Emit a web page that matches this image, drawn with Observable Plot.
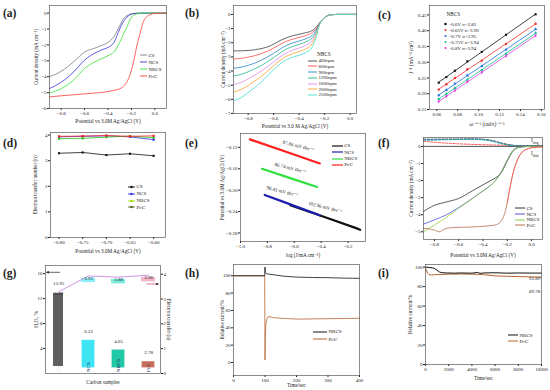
<!DOCTYPE html>
<html><head><meta charset="utf-8">
<script src="https://cdn.jsdelivr.net/npm/d3@7"></script>
<script src="https://cdn.jsdelivr.net/npm/@observablehq/plot@0.6"></script>
<style>
html,body{margin:0;padding:0;background:#fff;}
#root{position:relative;width:550px;height:390px;overflow:hidden;font-family:"Liberation Serif","DejaVu Serif",serif;color:#222;}
.lbl{position:absolute;font-weight:bold;font-size:11.5px;line-height:1;}
.lg{position:absolute;font-size:5px;line-height:1;white-space:nowrap;display:flex;align-items:center;transform:translateY(-50%);}
.tx{position:absolute;font-size:5.2px;line-height:1;white-space:nowrap;transform:translateY(-50%);}
</style></head><body><div id="root"></div>
<script>
// ---------- (a) LSV of samples ----------
const aPot = [-0.9,-0.8,-0.7,-0.6,-0.5,-0.45,-0.4,-0.35,-0.3,-0.27,-0.24,-0.21,-0.18,-0.15,-0.12,-0.1,-0.05,0,0.1];
const aCS  = [-4.0,-3.66,-3.1,-2.45,-2.17,-2.02,-1.84,-1.48,-0.8,-0.38,-0.17,-0.06,-0.02,0,0,0,0,0,0];
const aNCS = [-4.75,-4.35,-3.75,-2.95,-2.47,-2.3,-2.16,-1.85,-1.0,-0.55,-0.26,-0.1,-0.03,-0.01,0,0,0,0,0];
const aNBCS= [-5.02,-4.75,-4.25,-3.48,-3.02,-2.85,-2.68,-2.45,-1.84,-1.35,-0.9,-0.4,-0.12,-0.04,-0.01,0,0,0,0];
const aPtC = [-5.27,-5.2,-5.14,-5.08,-5.02,-4.99,-4.93,-4.86,-4.76,-4.62,-4.35,-3.84,-3.0,-1.95,-1.12,-0.59,-0.13,-0.02,0];

// ---------- (b) NBCS at rotation rates ----------
const bPot = [-0.915,-0.85,-0.8,-0.75,-0.7,-0.65,-0.6,-0.55,-0.5,-0.45,-0.4,-0.35,-0.3,-0.27,-0.24,-0.21,-0.18,-0.15,-0.1,0.05];
const bRpm = ["400rpm","600rpm","900rpm","1200rpm","1600rpm","2000rpm","2500rpm"];
const b400 = [-2.58,-2.57,-2.55,-2.5,-2.42,-2.3,-2.1,-1.85,-1.65,-1.5,-1.4,-1.3,-1.15,-0.95,-0.6,-0.3,-0.1,-0.02,0,0];
const b600 = [-3.15,-3.1,-3.02,-2.92,-2.78,-2.6,-2.38,-2.12,-1.9,-1.75,-1.62,-1.5,-1.3,-1.05,-0.62,-0.3,-0.1,-0.02,0,0];
const b900 = [-3.8,-3.72,-3.6,-3.45,-3.25,-3.02,-2.75,-2.45,-2.2,-2.02,-1.88,-1.73,-1.5,-1.17,-0.64,-0.3,-0.1,-0.02,0,0];
const b1200= [-4.35,-4.22,-4.05,-3.85,-3.62,-3.35,-3.05,-2.72,-2.45,-2.27,-2.12,-1.95,-1.68,-1.3,-0.66,-0.3,-0.1,-0.02,0,0];
const b1600= [-4.95,-4.78,-4.55,-4.3,-4.02,-3.7,-3.35,-3.0,-2.72,-2.52,-2.37,-2.2,-1.88,-1.42,-0.69,-0.3,-0.1,-0.02,0,0];
const b2000= [-5.5,-5.28,-5.02,-4.72,-4.4,-4.02,-3.62,-3.25,-2.96,-2.77,-2.62,-2.45,-2.1,-1.55,-0.72,-0.3,-0.1,-0.02,0,0];
const b2500= [-6.1,-5.85,-5.52,-5.18,-4.8,-4.35,-3.9,-3.5,-3.2,-3.02,-2.88,-2.7,-2.35,-1.7,-0.75,-0.3,-0.1,-0.02,0,0];

// ---------- (c) K-L plots ----------
const cOmega = [0.0618,0.0691,0.0773,0.0892,0.1030,0.1262,0.1545];
const cNames = ["-0.6V n=3.82","-0.65V n=3.90","-0.7V n=3.95","-0.75V n=3.94","-0.8V n=3.94"];
const cJ06  = [0.235,0.253,0.273,0.303,0.333,0.387,0.452];
const cJ065 = [0.213,0.230,0.250,0.278,0.305,0.358,0.422];
const cJ07  = [0.195,0.212,0.232,0.258,0.288,0.340,0.405];
const cJ075 = [0.183,0.200,0.218,0.245,0.275,0.327,0.393];
const cJ08  = [0.175,0.192,0.210,0.238,0.268,0.320,0.385];

// ---------- (d) electron transfer number ----------
const dPot  = [-0.80,-0.75,-0.70,-0.65,-0.60];
const dCS   = [3.29,3.32,3.22,3.27,3.19];
const dNCS  = [3.93,3.95,3.97,3.93,3.82];
const dNBCS = [3.86,3.87,3.92,3.96,3.90];
const dPtC  = [3.95,3.96,3.98,3.95,3.97];

// ---------- (e) Tafel ----------
const eSlopes = ["102.96 mV dec⁻¹","98.43 mV dec⁻¹","86.74 mV dec⁻¹","87.86 mV dec⁻¹"];
const eCSx = [-0.63,-0.37,-0.14,-0.11],  eCSy = [-0.228,-0.2508,-0.271,-0.274];
const eNCx = [-0.82,-0.69,-0.41],        eNCy = [-0.209,-0.221,-0.247];
const eNBx = [-0.84,-0.63,-0.43],        eNBy = [-0.160,-0.1774,-0.194];
const ePtx = [-0.93,-0.57,-0.41],        ePty = [-0.105,-0.136,-0.150];

// ---------- (f) RRDE ----------
const fRingPot = [-0.89,-0.8,-0.7,-0.6,-0.5,-0.4,-0.3,-0.25,-0.2,-0.15,-0.1,0,0.09];
const fRingCS  = [0.42,0.42,0.43,0.43,0.44,0.42,0.3,0.2,0.12,0.06,0.04,0.03,0.03];
const fRingNCS = [0.38,0.39,0.4,0.41,0.42,0.4,0.28,0.18,0.1,0.05,0.03,0.02,0.02];
const fRingNBCS= [0.36,0.37,0.39,0.4,0.41,0.38,0.26,0.16,0.09,0.05,0.03,0.02,0.02];
const fRingPtC = [0.3,0.24,0.19,0.15,0.12,0.1,0.08,0.07,0.06,0.05,0.04,0.03,0.03];
const fPot   = [-0.89,-0.8,-0.7,-0.6,-0.5,-0.4,-0.35,-0.3,-0.25,-0.2,-0.15,-0.1,-0.05,0,0.09];
const fCS    = [-3.81,-3.45,-3.25,-3.05,-2.65,-2.25,-2.05,-1.85,-1.55,-0.85,-0.25,-0.05,-0.01,0,0];
const fNCS   = [-4.55,-4.3,-4.0,-3.58,-3.1,-2.6,-2.35,-2.02,-1.5,-0.8,-0.22,-0.05,-0.01,0,0];
const fNBCS  = [-5.0,-4.6,-4.15,-3.62,-3.12,-2.62,-2.36,-2.02,-1.5,-0.8,-0.22,-0.05,-0.01,0,0];
const fPtPot = [-0.89,-0.85,-0.8,-0.76,-0.72,-0.65,-0.5,-0.35,-0.3,-0.26,-0.23,-0.2,-0.18,-0.16,-0.14,-0.12,-0.1,-0.08,-0.05,0,0.09];
const fPtC   = [-4.8,-4.82,-4.9,-5.0,-4.85,-4.75,-4.72,-4.65,-4.6,-4.45,-4.1,-3.3,-2.5,-1.8,-1.25,-0.85,-0.55,-0.35,-0.2,-0.08,-0.03];

// ---------- (g) H2O2 and n ----------
const gSamples = ["CS","NCS","NBCS","Pt/C"];
const gH2O2 = [13.95,6.22,4.65,2.78];
const gN = [3.29,3.93,3.88,3.96];

// ---------- (h) methanol tolerance ----------
const hT_NB = [0,50,99,100,101,104,110,130,160,200,250,300,350,400];
const hNB   = [100,100,100,110,104,102.5,102,101,99.5,98.5,98,97.8,97.3,97];
const hT_Pt = [0,50,99,100,101,103,106,110,130,200,300,400];
const hPt   = [100,100,100,3,30,45,50,53,51.5,50,50.5,51];

// ---------- (i) stability ----------
const iT_NB = [0,300,600,800,1000,1200,1400,1800,2500,3000,4000,4500,4700,5000,6000,7000,8000,9000,10000];
const iNB   = [100,99.7,99.2,98.5,96.8,95,94.3,94,93.8,94,93.8,94.5,93.6,94,94.2,93.8,94,93.9,93.89];
const iT_Pt = [0,100,200,300,500,1000,2000,3000,4000,5000,6000,7000,8000,9000,10000];
const iPt   = [99,96,93.5,92.3,92,92.3,92.8,93,92.8,92.3,91,90.6,90.3,90,89.78];

// ================= drawing =================
const FONT = "'Liberation Serif','DejaVu Serif',serif";
const root = document.getElementById("root");
const f1 = d3.format(".1f"), f2 = d3.format(".2f"), fd = d3.format("d");
const pts = (xs, ys) => xs.map((x,i) => ({x, y: ys[i]}));
const L = (xs, ys, stroke, o = {}) => Plot.line(pts(xs, ys), {x: "x", y: "y", stroke, strokeWidth: 0.8, ...o});

function panel(o) {
  const marks = [...(o.marks || [])];
  if (o.frame !== false) marks.push(Plot.frame({stroke: "#5a5a5a", strokeWidth: 0.7}));
  if (o.xl) marks.push(Plot.text([o.xl], {frameAnchor: "bottom", dy: o.xdy, fontSize: 5.2, textAnchor: "middle"}));
  if (o.yl) marks.push(Plot.text([o.yl], {frameAnchor: "left", dx: o.ydx, rotate: -90, fontSize: 5.2, textAnchor: "middle"}));
  if (o.yr) marks.push(Plot.text([o.yr], {frameAnchor: "right", dx: o.yrdx, rotate: 90, fontSize: 5.2, textAnchor: "middle"}));
  const svg = Plot.plot({
    width: o.w, height: o.h,
    marginLeft: o.ml, marginRight: o.mr, marginTop: o.mt, marginBottom: o.mb,
    style: {fontFamily: FONT, fontSize: "5px", background: "transparent", overflow: "visible", color: "#222"},
    x: {tickSize: 2, tickPadding: 1, label: null, ...o.x},
    y: {tickSize: 2, tickPadding: 1, label: null, ...o.y},
    marks
  });
  svg.style.position = "absolute";
  svg.style.left = o.left + "px";
  svg.style.top = o.top + "px";
  root.appendChild(svg);
}

function legend(items, x, y, step, o = {}) {
  const lw = o.lw ?? 8;
  items.forEach((it, i) => {
    const div = document.createElement("div");
    div.className = "lg";
    div.style.left = x + "px";
    div.style.top = (y + i * step) + "px";
    let mk = "";
    if (it.m === "sq") mk = `<rect x="${lw/2-1.1}" y="1.9" width="2.2" height="2.2" fill="${it.mc || it.c}"/>`;
    if (it.m === "ci") mk = `<circle cx="${lw/2}" cy="3" r="1.1" fill="${it.mc || it.c}"/>`;
    const line = it.noLine ? "" :
      `<line x1="0" y1="3" x2="${lw}" y2="3" stroke="${it.c}" stroke-width="${o.sw ?? 0.9}" ${it.dash ? `stroke-dasharray="${it.dash}"` : ""}/>`;
    div.innerHTML = `<svg width="${lw}" height="6" style="display:block;overflow:visible">${line}${mk}</svg><span style="margin-left:${o.gap ?? 1.5}px">${it.t}</span>`;
    root.appendChild(div);
  });
}
function txt(html, x, y, extra = "") {
  const d = document.createElement("div");
  d.className = "tx"; d.style.left = x + "px"; d.style.top = y + "px";
  if (extra) d.style.cssText += extra;
  d.innerHTML = html; root.appendChild(d);
}
function plabel(t, x, y) {
  const d = document.createElement("div");
  d.className = "lbl"; d.style.left = x + "px"; d.style.top = y + "px"; d.textContent = t;
  root.appendChild(d);
}

// ---- (a)
const aCol = {CS: "#7a7a7a", NCS: "#3434d8", NBCS: "#36e036", PtC: "#ff3b3b"};
panel({left: 0, top: 0, w: 183, h: 130, ml: 49, mr: 17, mt: 5, mb: 22,
  x: {domain: [-0.9, 0.1], ticks: [-0.8,-0.6,-0.4,-0.2,0], tickFormat: f1},
  y: {domain: [-6, 0.48], ticks: [0,-1,-2,-3,-4,-5,-6], tickFormat: fd},
  xl: "Potential vs 3.0M Ag/AgCl (V)", xdy: 14,
  yl: "Current density (mA cm⁻²)", ydx: -13,
  marks: [
    L(aPot, aCS, aCol.CS, {curve: "monotone-x"}),
    L(aPot, aNCS, aCol.NCS, {curve: "monotone-x"}),
    L(aPot, aNBCS, aCol.NBCS, {curve: "monotone-x"}),
    L(aPot, aPtC, aCol.PtC, {curve: "monotone-x"})
  ]});
legend([{t: "CS", c: aCol.CS}, {t: "NCS", c: aCol.NCS}, {t: "NBCS", c: aCol.NBCS}, {t: "Pt/C", c: aCol.PtC}], 140, 55, 7, {lw: 7});

// ---- (b)
const bCol = ["#404040","#ff4b4b","#2a86c8","#22b890","#e68ae6","#ffa12a","#3ee0d0"];
const bSeries = [b400,b600,b900,b1200,b1600,b2000,b2500];
panel({left: 183, top: 0, w: 183, h: 130, ml: 50, mr: 10, mt: 5, mb: 17,
  x: {domain: [-0.915, 0.05], ticks: [-0.8,-0.6,-0.4,-0.2,0], tickFormat: f1},
  y: {domain: [-7, 0.63], ticks: [0,-1,-2,-3,-4,-5,-6,-7], tickFormat: fd},
  xl: "Potential vs 3.0 M Ag/AgCl (V)", xdy: 14,
  yl: "Current density (mA cm⁻²)", ydx: -10,
  marks: bSeries.map((s, i) => L(bPot, s, bCol[i], {curve: "monotone-x"}))});
txt("NBCS", 317, 55);
legend(bRpm.map((t, i) => ({t, c: bCol[i]})), 308, 60.7, 5.7, {lw: 9});

// ---- (c)
const cCol = ["#111111","#f03030","#2070e0","#10c090","#e040e0"];
const cSym = ["square","circle","triangle","triangle","diamond"];
const cSeries = [cJ06,cJ065,cJ07,cJ075,cJ08];
panel({left: 366, top: 0, w: 184, h: 130, ml: 63, mr: 6, mt: 5, mb: 21,
  x: {domain: [0.053, 0.163], ticks: [0.06,0.08,0.10,0.12,0.14,0.16], tickFormat: f2},
  y: {domain: [0.15, 0.48], ticks: [0.15,0.20,0.25,0.30,0.35,0.40,0.45], tickFormat: f2},
  xl: "ω⁻⁰·⁵ (rad/s)⁻⁰·⁵", xdy: 16,
  yl: "J⁻¹ (mA⁻¹ cm²)", ydx: -18,
  marks: cSeries.flatMap((s, i) => [
    Plot.linearRegressionY(pts(cOmega, s), {x: "x", y: "y", stroke: cCol[i], strokeWidth: 0.8, ci: 0}),
    Plot.dot(pts(cOmega, s), {x: "x", y: "y", fill: cCol[i], r: 1.2, symbol: cSym[i]})
  ])});
txt("NBCS", 446.5, 15);
legend(cNames.map((t, i) => ({t, c: cCol[i], noLine: true, m: i === 0 ? "sq" : "ci"})), 443, 24, 6.1, {lw: 5});

// ---- (d)
const dCol = {CS: "#111111", NCS: "#3030e0", NBCS: "#20c020", PtC: "#ff2020"};
const dSeries = [[dCS, dCol.CS], [dNCS, dCol.NCS], [dNBCS, dCol.NBCS], [dPtC, dCol.PtC]];
panel({left: 0, top: 130, w: 183, h: 130, ml: 50, mr: 18, mt: 2, mb: 23,
  x: {domain: [-0.818, -0.575], ticks: dPot, tickFormat: f2},
  y: {domain: [0, 4.1], ticks: [0,1,2,3,4], tickFormat: fd},
  xl: "Potential vs 3.0M Ag/AgCl (V)", xdy: 15,
  yl: "Electron transfer number (n)", ydx: -15,
  marks: dSeries.flatMap(([s, c]) => [
    L(dPot, s, c),
    Plot.dot(pts(dPot, s), {x: "x", y: "y", fill: c, r: 1.2, symbol: "square"})
  ])});
legend([{t: "CS", c: "#111", m: "sq"}, {t: "NCS", c: "#3030e0", m: "sq"}, {t: "NBCS", c: "#a0e000", m: "sq"}, {t: "Pt/C", c: "#506020", m: "sq"}], 128, 186.7, 6.9, {lw: 7});

// ---- (e)
const eCol = {CS: "#111111", NCS: "#2020b0", NBCS: "#30e040", PtC: "#ff2020"};
const eLines = [[eCSx, eCSy, eCol.CS], [eNCx, eNCy, eCol.NCS], [eNBx, eNBy, eCol.NBCS], [ePtx, ePty, eCol.PtC]];
panel({left: 183, top: 130, w: 183, h: 130, ml: 57, mr: 1, mt: 3, mb: 19,
  x: {domain: [-1.0, -0.07], ticks: [-1.0,-0.8,-0.6,-0.4,-0.2], tickFormat: f1},
  y: {domain: [-0.296, -0.094], ticks: [-0.12,-0.16,-0.20,-0.24,-0.28], tickFormat: f2},
  xl: "log (J/mA cm⁻²)", xdy: 15,
  yl: "Potential vs 3.0M Ag/AgCl (V)", ydx: -18,
  marks: [
    ...eLines.map(([xs, ys, c]) => L(xs, ys, c, {strokeWidth: 2.2})),
    ...eLines.map(([xs, ys], i) => Plot.text([{x: xs[1], y: ys[1], t: eSlopes[i]}], {x: "x", y: "y", text: "t", dy: -10, rotate: 14, fontSize: 5}))
  ]});
legend([{t: "CS", c: eCol.CS}, {t: "NCS", c: eCol.NCS}, {t: "NBCS", c: eCol.NBCS}, {t: "Pt/C", c: eCol.PtC}], 331.7, 145.7, 6.4, {lw: 11, sw: 1.2});

// ---- (f)
const fCol = {CS: "#303030", NCS: "#5050e0", NBCS: "#90d040", PtC: "#b87050"};
const dash = {strokeDasharray: "2.2,1.5", strokeWidth: 0.9};
panel({left: 366, top: 130, w: 184, h: 130, ml: 57, mr: 8, mt: 7, mb: 21,
  x: {domain: [-0.89, 0.09], ticks: [-0.8,-0.6,-0.4,-0.2,0], tickFormat: f1},
  y: {domain: [-5.45, 0.52], ticks: [0,-1,-2,-3,-4,-5], tickFormat: fd},
  xl: "Potential vs 3.0M Ag/AgCl (V)", xdy: 17,
  yl: "Current density (mA cm⁻²)", ydx: -12,
  marks: [
    Plot.ruleY([0], {stroke: "#2a2a2a", strokeWidth: 0.8}),
    L(fRingPot, fRingPtC, "#ff4040", {...dash, curve: "monotone-x"}),
    L(fRingPot, fRingCS, "#303030", {...dash, curve: "monotone-x"}),
    L(fRingPot, fRingNCS, "#4060e0", {...dash, curve: "monotone-x"}),
    L(fRingPot, fRingNBCS, "#20b090", {...dash, curve: "monotone-x"}),
    L(fPot, fCS, fCol.CS, {curve: "monotone-x"}),
    L(fPot, fNCS, fCol.NCS, {curve: "monotone-x"}),
    L(fPot, fNBCS, fCol.NBCS, {curve: "monotone-x"}),
    L(fPtPot, fPtC, fCol.PtC, {curve: "monotone-x"}),
    L(fPtPot, fPtC, "#ff6060", {curve: "monotone-x", filter: (d) => d.x > -0.22, strokeWidth: 0.8})
  ]});
txt("I<sub style='font-size:3.6px'>ring</sub>", 531, 141.7);
txt("I<sub style='font-size:3.6px'>disk</sub>", 531, 155);
legend([{t: "CS", c: fCol.CS}, {t: "NCS", c: fCol.NCS}, {t: "NBCS", c: fCol.NBCS}, {t: "Pt/C", c: fCol.PtC}], 515, 208.3, 5.7, {lw: 10, sw: 1});

// ---- (g)
const gData = gSamples.map((s, i) => ({s, h: gH2O2[i], n: gN[i]}));
const gFill = {"CS": "#5f5f5f", "NCS": "#3fe4f4", "NBCS": "#22c8a8", "Pt/C": "#c8705a"};
const gBox = {"NCS": ["#8ef0fa", "#4aa2e4"], "NBCS": ["#78ecdc", "#30c4aa"], "Pt/C": ["#f3b6c6", "#c47a5e"]};
const gx = {type: "band", domain: gSamples, paddingInner: 0.2, paddingOuter: 0, axis: null};
panel({left: 0, top: 260, w: 183, h: 130, ml: 45, mr: 23, mt: 5, mb: 17,
  x: gx,
  y: {domain: [0, 17.3], ticks: [4,8,12,16], tickFormat: fd},
  xl: "Carbon samples", xdy: 10,
  yl: "H₂O₂ %", ydx: -9,
  marks: [
    ...gData.map(d => Plot.barY([d], {x: "s", y: "h", fill: gFill[d.s], inset: d.s === "CS" ? 7 : 5.6})),
    Plot.barY([gData[0]], {x: "s", y1: d => d.h - 0.4, y2: d => d.h - 2.2, fill: "#b4b4b4", inset: 7}),
    Plot.barY([gData[1]], {x: "s", y1: 0, y2: 1.6, fill: "#2cc4dc", inset: 5.6}),
    Plot.text(gData, {x: "s", y: "h", text: d => f2(d.h), dy: -3.5, fontSize: 5}),
    Plot.text(gData, {x: "s", y: 0, text: "s", rotate: -90, textAnchor: "start", dy: -1.5, fontSize: 5, fill: d => d.s === "CS" ? "#ddd" : "#1a2a60"})
  ]});
panel({left: 0, top: 260, w: 183, h: 130, ml: 45, mr: 23, mt: 5, mb: 17, frame: false,
  x: gx,
  y: {domain: [0, 4.35], axis: "right", ticks: [0,1,2,3,4], tickFormat: fd},
  yr: "Electron transfer (n)", yrdx: 8,
  marks: [
    ...gData.slice(1).map(d => Plot.barY([d], {x: "s", y1: d.n - 0.47, y2: d.n + 0.11, fill: gBox[d.s][0], inset: 5})),
    ...gData.slice(1).map(d => Plot.barY([d], {x: "s", y1: d.n - 0.36, y2: d.n + 0.04, fill: gBox[d.s][1], inset: 6.5})),
    Plot.line(gData, {x: "s", y: "n", stroke: "#c27be0", strokeWidth: 0.8}),
    Plot.text(gData, {x: "s", y: "n", text: d => f2(d.n), dy: 2, fontSize: 5, fill: "#222"})
  ]});
// axis pointer arrows
(function () {
  const s = document.createElementNS("http://www.w3.org/2000/svg", "svg");
  s.setAttribute("width", 550); s.setAttribute("height", 390);
  s.style.cssText = "position:absolute;left:0;top:0;pointer-events:none";
  s.innerHTML = `<defs><marker id="ah" viewBox="0 0 6 6" refX="5" refY="3" markerWidth="4" markerHeight="4" orient="auto"><path d="M0,0L6,3L0,6z" fill="#222"/></marker></defs>
  <line x1="60" y1="272.3" x2="46.5" y2="272.3" stroke="#222" stroke-width="0.7" marker-end="url(#ah)"/>
  <line x1="146.5" y1="284" x2="158.5" y2="284" stroke="#c04070" stroke-width="0.7" marker-end="url(#ah)"/>`;
  root.appendChild(s);
})();

// ---- (h)
panel({left: 183, top: 260, w: 183, h: 130, ml: 50, mr: 7, mt: 4, mb: 15,
  x: {domain: [0, 400], ticks: [0,100,200,300,400], tickFormat: fd},
  y: {domain: [-15, 113], ticks: [0,20,40,60,80,100], tickFormat: fd},
  xl: "Time/sec", xdy: 11.5,
  yl: "Relative current/%", ydx: -11,
  marks: [
    L(hT_Pt, hPt, "#b8652e"),
    L(hT_NB, hNB, "#111111")
  ]});
legend([{t: "NBCS", c: "#111"}, {t: "Pt/C", c: "#b8652e"}], 313, 331.7, 7.3, {lw: 14, sw: 1});

// ---- (i)
panel({left: 366, top: 260, w: 184, h: 130, ml: 59, mr: 9, mt: 4, mb: 26,
  x: {domain: [0, 10000], ticks: [0,2000,4000,6000,8000,10000], tickFormat: fd},
  y: {domain: [0, 102.7], ticks: [0,20,40,60,80,100], tickFormat: fd},
  xl: "Time/sec", xdy: 15,
  yl: "Relative current/%", ydx: -15,
  marks: [
    L(iT_Pt, iPt, "#b8652e", {strokeWidth: 1}),
    L(iT_NB, iNB, "#111111", {strokeWidth: 1}),
    Plot.text([{x: iT_NB[iT_NB.length-1], y: iNB[iNB.length-1]}], {x: "x", y: "y", text: d => f2(d.y), dx: -7, dy: 5, fontSize: 5}),
    Plot.text([{x: iT_Pt[iT_Pt.length-1], y: iPt[iPt.length-1]}], {x: "x", y: "y", text: d => f2(d.y), dx: -7, dy: 14, fontSize: 5})
  ]});
legend([{t: "NBCS", c: "#111"}, {t: "Pt/C", c: "#b8652e"}], 508, 335, 6, {lw: 10, sw: 1});

// panel letters
[["(a)",3,8],["(b)",185,8],["(c)",378,10],["(d)",3,138],["(e)",185,138],["(f)",378,138],["(g)",3,268],["(h)",185,268],["(i)",378,268]]
  .forEach(([t, x, y]) => plabel(t, x, y));
</script></body></html>
